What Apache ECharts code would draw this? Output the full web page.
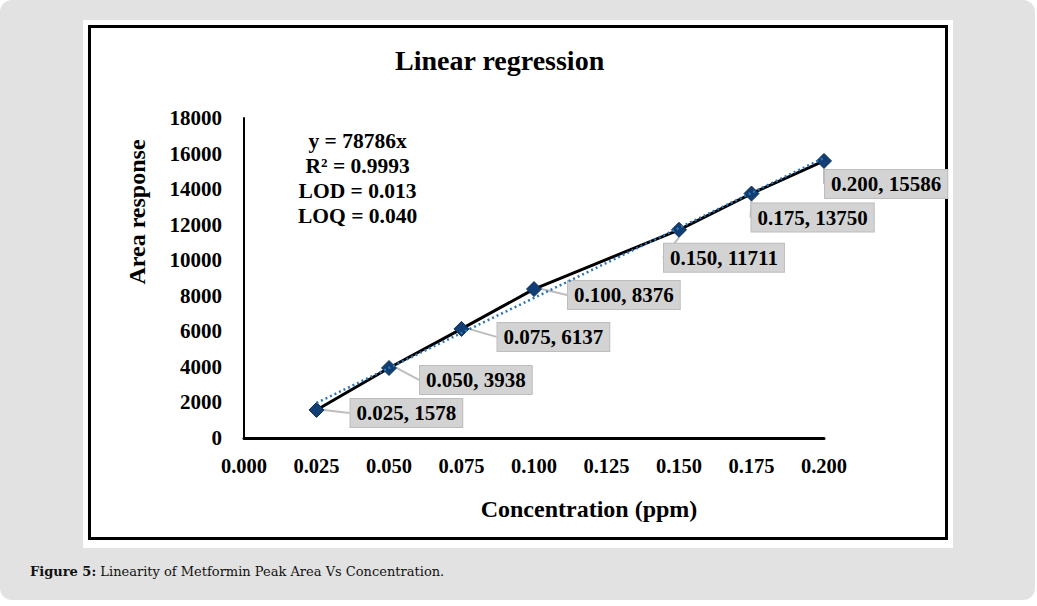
<!DOCTYPE html>
<html><head><meta charset="utf-8">
<script src="https://cdn.jsdelivr.net/npm/echarts@6/dist/echarts.min.js"></script>
<style>
html,body{margin:0;padding:0;background:#fff;width:1037px;height:606px;overflow:hidden;}
#page{position:absolute;left:0;top:0;width:1035px;height:600px;background:#e2e2e2;border-radius:12px;}
#white{position:absolute;left:83px;top:20px;width:870px;height:528px;background:#fff;}
#frame{position:absolute;left:88px;top:25px;width:854px;height:509px;border:3px solid #000;}
#caption{position:absolute;left:30px;top:564px;font-family:"DejaVu Serif",serif;font-size:13px;color:#111;}
#chart{position:absolute;left:0;top:0;width:1037px;height:606px;}
</style></head>
<body>
<div id="page"></div><div id="white"></div><div id="frame"></div>
<div id="caption"><b>Figure 5:</b> Linearity of Metformin Peak Area Vs Concentration.</div>
<div id="chart"></div>
<script>
var concentrations = [0.025, 0.050, 0.075, 0.100, 0.150, 0.175, 0.200];
var areas = [1578, 3938, 6137, 8376, 11711, 13750, 15586];
var trendX = [0.025, 0.200];
var trendY = [1970, 15757];
var xTicks = ['0.000','0.025','0.050','0.075','0.100','0.125','0.150','0.175','0.200'];
var yTicks = ['0','2000','4000','6000','8000','10000','12000','14000','16000','18000'];
var eqLines = ['y = 78786x', 'R² = 0.9993', 'LOD = 0.013', 'LOQ = 0.040'];

var serif = '"Liberation Serif","Times New Roman",serif';
var labelShift = [[26,3],[23,12],[28,8],[26,6],[-23,28],[-8,24],[-7,23]];

var chart = echarts.init(document.getElementById('chart'), null, {renderer:'svg'});
chart.setOption({
  backgroundColor: 'transparent',
  animation: false,
  title: {
    text: 'Linear regression', left: 390, top: 41,
    textStyle: {fontFamily: serif, fontWeight: 'bold', fontSize: 28, color: '#000'}
  },
  graphic: [{
    type: 'text', left: 298, top: 128,
    style: {text: eqLines.join('\n'), fontFamily: serif, fontWeight: 'bold', fontSize: 21.5,
      lineHeight: 25, fill: '#000', textAlign: 'center'}
  }, {
    type: 'text', x: 137, y: 212, rotation: Math.PI / 2,
    style: {text: 'Area response', fontFamily: serif, fontWeight: 'bold', fontSize: 24,
      fill: '#000', textAlign: 'center', textVerticalAlign: 'middle'}
  }],
  grid: {left: 244, right: 213, top: 118, bottom: 168},
  xAxis: {
    type: 'value', min: 0, max: 0.2, interval: 0.025,
    name: 'Concentration (ppm)', nameLocation: 'middle', nameGap: 59,
    nameTextStyle: {fontFamily: serif, fontWeight: 'bold', fontSize: 24, color: '#000', padding:[0,0,0,110]},
    axisLine: {lineStyle: {color: '#000', width: 3}},
    axisTick: {show: false}, splitLine: {show: false},
    axisLabel: {margin: 17, fontFamily: serif, fontWeight: 'bold', fontSize: 20.5, color: '#000',
      formatter: function(v){ return xTicks[Math.round(v/0.025)]; }}
  },
  yAxis: {
    type: 'value', min: 0, max: 18000, interval: 2000,
    axisLine: {show: true, lineStyle: {color: '#000', width: 2}},
    axisTick: {show: false}, splitLine: {show: false},
    axisLabel: {margin: 22, fontFamily: serif, fontWeight: 'bold', fontSize: 21, color: '#000',
      formatter: function(v){ return yTicks[Math.round(v/2000)]; }}
  },
  series: [{
    type: 'line',
    data: concentrations.map(function(c,i){ return [c, areas[i]]; }),
    lineStyle: {color: '#000', width: 3},
    symbol: 'diamond', symbolSize: 15,
    itemStyle: {color: '#123f73', borderColor: '#0d2f5a', borderWidth: 1},
    z: 3,
    label: {
      show: true, position: 'right', distance: 0,
      fontFamily: serif, fontWeight: 'bold', fontSize: 21, color: '#000',
      backgroundColor: '#d3d3d3', borderColor: '#bdbdbd', borderWidth: 1,
      padding: [4, 6, 3, 6],
      formatter: function(p){ return p.value[0].toFixed(3) + ', ' + p.value[1]; }
    },
    labelLine: {show: true, lineStyle: {color: '#bdbdbd', width: 2}},
    labelLayout: function(p){ var s = labelShift[p.dataIndex]; return {dx: s[0], dy: s[1]}; }
  }, {
    type: 'line',
    data: trendX.map(function(x,i){ return [x, trendY[i]]; }),
    symbol: 'none',
    lineStyle: {color: '#2e75b6', width: 2.5, type: [2, 3]},
    z: 4, silent: true
  }]
});
</script>
</body></html>
